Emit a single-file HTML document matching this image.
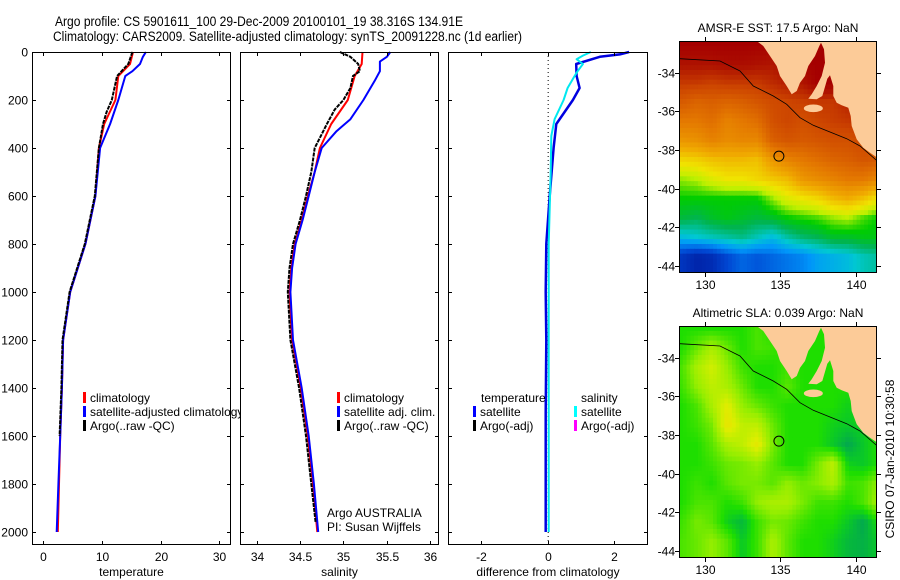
<!DOCTYPE html>
<html><head><meta charset="utf-8"><style>
html,body{margin:0;padding:0;background:#fff;}
svg{display:block;font-family:"Liberation Sans",sans-serif;}
text{fill:#000;}
</style></head><body>
<svg id="fig" width="900" height="580" viewBox="0 0 900 580" xmlns="http://www.w3.org/2000/svg">
<defs>
<clipPath id="clipSst"><rect x="679" y="41" width="198" height="232"/></clipPath>
<clipPath id="clipSla"><rect x="679" y="326" width="198" height="232"/></clipPath>
</defs>
<rect x="0" y="0" width="900" height="580" fill="#fff"/>
<text x="55" y="26" font-size="13.5" textLength="408" lengthAdjust="spacingAndGlyphs">Argo profile: CS 5901611_100 29-Dec-2009 20100101_19 38.316S 134.91E</text>
<text x="53" y="41" font-size="13.5" textLength="469" lengthAdjust="spacingAndGlyphs">Climatology: CARS2009. Satellite-adjusted climatology: synTS_20091228.nc (1d earlier)</text>
<g id="layer"></g>
</svg>
<script>
// ---------- profile data ----------
const tempClimDepth = [0,50,100,200,300,400,600,800,1000,1200,1400,1600,1800,2000];
const tempClim      = [15.3,14.8,12.8,12.3,10.4,9.5,8.9,7.2,4.6,3.4,3.2,2.9,2.7,2.5];
const tempSatDepth  = [0,20,50,80,100,200,300,400,600,800,1000,1200,1400,1600,1800,2000];
const tempSat       = [17.5,17.0,16.5,15.2,14.0,12.8,11.4,9.7,8.9,7.2,4.6,3.4,3.2,2.9,2.6,2.3];
const tempArgoDepth = [0,50,100,200,250,300,400,600,800,1000,1200,1400,1600];
const tempArgo      = [15.2,14.5,12.6,11.7,10.8,10.2,9.5,8.8,7.1,4.5,3.3,3.1,2.8];

const salClimDepth = [0,50,100,200,300,400,500,600,700,800,900,1000,1200,1400,1600,1800,2000];
const salClim      = [35.22,35.21,35.13,35.05,34.86,34.73,34.67,34.59,34.52,34.44,34.40,34.38,34.41,34.51,34.59,34.65,34.70];
const salSatDepth  = [0,20,40,80,120,200,280,330,400,500,600,700,800,900,1000,1200,1400,1600,1800,2000];
const salSat       = [35.54,35.50,35.42,35.42,35.36,35.23,35.08,34.92,34.75,34.67,34.60,34.53,34.45,34.41,34.39,34.42,34.52,34.60,34.66,34.71];
const salArgoDepth = [0,20,50,80,100,150,200,240,300,400,500,600,700,800,900,1000,1200,1400,1600,1800,1960];
const salArgo      = [34.96,35.08,35.17,35.19,35.11,35.08,35.00,34.90,34.81,34.67,34.63,34.57,34.50,34.42,34.38,34.36,34.39,34.49,34.57,34.63,34.68];

const diffTDepth = [0,10,20,50,100,150,200,300,400,600,800,1000,1200,1500,2000];
const diffT      = [2.45,2.17,1.57,0.86,0.87,0.96,0.76,0.26,0.18,0.06,-0.04,-0.06,-0.04,-0.06,-0.06];
const diffSDepth = [0,15,30,50,80,100,150,200,280,350,500,800,1000,1500,2000];
const diffS      = [1.30,1.06,0.87,1.06,0.90,0.81,0.60,0.48,0.21,0.11,0.09,0.03,0.03,0.03,0.03];

const depthTicks = [0,200,400,600,800,1000,1200,1400,1600,1800,2000];
const tempTicks = [0,10,20,30];
const salTicks = [34,34.5,35,35.5,36];
const salTickLabels = ["34","34.5","35","35.5","36"];
const diffTicks = [-2,0,2];

// ---------- map data ----------
const mapLons = [128.5,129.5,130.5,131.5,132.5,133.5,134.5,135.5,136.5,137.5,138.5,139.5,140.5,141.5];
const mapLats = [-32.5,-33.5,-34.5,-35.5,-36.5,-37.5,-38.5,-39.5,-40.5,-41.5,-42.5,-43.5];
const sstGrid = [
[20,20,20,20,20,20,20,20,20,20,20,20,20,20],
[19.6,19.6,19.6,19.7,19.7,19.6,19.5,19.8,20,20,20,20,20,20],
[19,19,18.9,19,19,19,19.2,19.4,19.5,20,20,20,20,20],
[18.4,18.2,18.3,18.2,18.3,18.5,18.7,18.8,18.9,19,19,19.3,19.5,19.5],
[17.8,17.8,18,17.6,17.8,18,18.6,18.8,18.6,18.8,18.9,19,19,19],
[17.2,17.3,17.6,17.4,17.5,17.5,18.3,18.5,18.4,18.5,18.6,18.6,18.7,18.5],
[16.2,16.3,16.5,16.6,16.6,16.5,17.2,17.6,17.8,18,18.2,18.3,18.5,18.4],
[15.4,15.5,15.8,16,16,16.2,16.4,16.6,17.2,17.4,17.6,17.8,17.8,17.5],
[15,15,15,15,15,15,15.4,15.8,16,16.2,16.6,16.8,16.5,16],
[14.7,14.6,14.8,14.9,14.8,14.7,14.8,15,15.1,15.2,15.4,15.5,15.2,15],
[14,14.1,14.2,14.3,14.4,14.2,14,14.3,14.5,14.6,14.8,14.8,14.9,14.9],
[13,12.8,12.9,13.2,13.4,13.3,13.4,13.5,13.6,13.8,13.9,14,14.2,14.3]];
const slaGrid = [
[0,0,0,0,0,0.03,0,0,0,0,0,0,0,0],
[0,0.05,0.1,0.05,0,0.03,0.02,0,0,0,0,0,0,0],
[0.03,0.1,0.14,0.08,0.02,0,0,0.02,0,0,0,0,0,0],
[0.02,0.08,0.12,0.1,0.05,0,0,0.04,0,0,0,0,0,0],
[0,0.03,0.1,0.16,0.08,0.05,0.02,0,0,0,0,-0.02,0,0],
[0,0.02,0.06,0.18,0.12,0.12,0.05,0,0,0,-0.02,-0.03,-0.02,0],
[0,0,0.04,0.1,0.12,0.17,0.06,0,0,0,-0.03,-0.07,-0.03,0],
[0,0,0.02,0.05,0.06,0.08,0.04,0,0,0.06,0.12,-0.02,-0.03,0],
[0,0.02,0,0.04,0.06,0.06,0.04,0.08,0.05,0.07,0.1,0.02,0.03,0.08],
[0,0.03,0.03,0,0.02,0.08,0.1,0.1,0.06,0.02,0.02,0,0.03,0.1],
[0.02,0.06,0.04,-0.02,-0.05,0.02,0.06,0.05,0.02,0,0,-0.03,-0.07,0],
[0.03,0.05,0.08,0.04,-0.03,0.02,0.1,0.04,0,0,-0.02,-0.05,-0.06,-0.03]];
const lonTicks = [130,135,140];
const latTicks = [-34,-36,-38,-40,-42,-44];
const argoLon = 134.91, argoLat = -38.316;

const NS = "http://www.w3.org/2000/svg";
const layer = document.getElementById('layer');
function mk(tag, attrs, parent){ const e=document.createElementNS(NS,tag); for(const k in attrs) e.setAttribute(k,attrs[k]); (parent||layer).appendChild(e); return e; }

const yTop=52, yScale=0.24;
function yD(d){ return yTop + d*yScale; }
const panelBottom = 545;

function panel(x0,x1,xmin,xmax,name){
  const sx = v => x0 + (v-xmin)/(xmax-xmin)*(x1-x0);
  const bg = mk('rect',{x:x0,y:yTop,width:x1-x0,height:panelBottom-yTop,fill:'#fff',stroke:'none'});
  
  
  return sx;
}
function frame(x0,x1,sx,ticks,labels,xlabel,name,withY){
  const g = mk('g',{});
  
  
  const box = mk('rect',{x:x0+0.5,y:yTop+0.5,width:x1-x0-1,height:panelBottom-yTop-1,fill:'none',stroke:'#000','stroke-width':1},g);
  
  
  ticks.forEach((t,i)=>{
    const x = Math.round(sx(t))+0.5;
    mk('line',{x1:x,x2:x,y1:yTop,y2:yTop+4,stroke:'#000'},g);
    mk('line',{x1:x,x2:x,y1:panelBottom,y2:panelBottom-4,stroke:'#000'},g);
    const tl = mk('text',{x:x,y:561,'font-size':12,'text-anchor':'middle'},g);
    tl.textContent = labels[i];
    
    
  });
  depthTicks.forEach(d=>{
    const y = Math.round(yD(d))+0.5;
    mk('line',{x1:x0,x2:x0+4,y1:y,y2:y,stroke:'#000'},g);
    mk('line',{x1:x1,x2:x1-4,y1:y,y2:y,stroke:'#000'},g);
    if(withY){
      const tl = mk('text',{x:28,y:y+4,'font-size':12,'text-anchor':'end'},g);
      tl.textContent = String(d);
      
      
    }
  });
  const xl = mk('text',{x:(x0+x1)/2,y:576,'font-size':12,'text-anchor':'middle'},g);
  xl.textContent = xlabel;
  
  
}
function series(depths, vals, sx, color, w, dash, name){
  const pts = depths.map((d,i)=>sx(vals[i]).toFixed(1)+','+yD(d).toFixed(1)).join(' ');
  const p = mk('polyline',{points:pts,fill:'none',stroke:color,'stroke-width':w,'stroke-linejoin':'round'});
  if(dash) p.setAttribute('stroke-dasharray',dash);
  
  
}
function legendEntry(x,y,color,label,name){
  if(color){
    const m = mk('rect',{x:x,y:y-10,width:3,height:11,fill:color});
    
    
  }
  const t = mk('text',{x:x+7,y:y,'font-size':12});
  t.textContent = label;
  
  
}

// Panel 1: temperature
const sxT = panel(32,231,-1.9,32,'temperature-panel');
series(tempClimDepth,tempClim,sxT,'#ff0000',2,null,'temperature-climatology-line');
series(tempSatDepth,tempSat,sxT,'#0000ff',2,null,'temperature-satellite-line');
series(tempArgoDepth,tempArgo,sxT,'#000000',2,'4,1','temperature-argo-line');
legendEntry(83,402,'#ff0000','climatology','legend-climatology');
legendEntry(83,416,'#0000ff','satellite-adjusted climatology','legend-satellite-adjusted');
legendEntry(83,430,'#000000','Argo(..raw -QC)','legend-argo-raw');
frame(32,231,sxT,tempTicks,tempTicks.map(String),'temperature','temperature-panel',true);

// Panel 2: salinity
const sxS = panel(240,439,33.81,36.1,'salinity-panel');
series(salClimDepth,salClim,sxS,'#ff0000',2,null,'salinity-climatology-line');
series(salSatDepth,salSat,sxS,'#0000ff',2,null,'salinity-satellite-line');
series(salArgoDepth,salArgo,sxS,'#000000',2,'4,1','salinity-argo-line');
legendEntry(337,402,'#ff0000','climatology','legend-sal-climatology');
legendEntry(337,416,'#0000ff','satellite adj. clim.','legend-sal-satellite');
legendEntry(337,430,'#000000','Argo(..raw -QC)','legend-sal-argo');
const a1 = mk('text',{x:327,y:517,'font-size':12}); a1.textContent='Argo AUSTRALIA';


const a2 = mk('text',{x:327,y:531,'font-size':12}); a2.textContent='PI: Susan Wijffels';


frame(240,439,sxS,salTicks,salTickLabels,'salinity','salinity-panel',false);

// Panel 3: difference
const sxD = panel(448,648,-3.0,3.02,'difference-panel');
const zl = mk('line',{x1:sxD(0)+0.5,x2:sxD(0)+0.5,y1:yTop,y2:panelBottom,stroke:'#000','stroke-dasharray':'1,3'});


series(diffTDepth,diffT,sxD,'#0000e0',2.5,null,'temperature-difference-line');
series(diffSDepth,diffS,sxD,'#00e8f0',2,null,'salinity-difference-line');
legendEntry(474,402,null,'temperature','legend-temperature-header');
legendEntry(574,402,null,'salinity','legend-salinity-header');
legendEntry(473,416,'#0000ff','satellite','legend-diff-temp-satellite');
legendEntry(473,430,'#000000','Argo(-adj)','legend-diff-temp-argo');
legendEntry(574,416,'#00ffff','satellite','legend-diff-sal-satellite');
legendEntry(574,430,'#ff00ff','Argo(-adj)','legend-diff-sal-argo');
frame(448,648,sxD,diffTicks,diffTicks.map(String),'difference from climatology','difference-panel',false);

// ---------- maps ----------
function lerpC(stops, v){
  if(v<=stops[0][0]) return stops[0][1];
  for(let i=1;i<stops.length;i++){
    if(v<=stops[i][0]){
      const t=(v-stops[i-1][0])/(stops[i][0]-stops[i-1][0]);
      const a=stops[i-1][1], b=stops[i][1];
      return a.map((c,k)=>Math.round(c+(b[k]-c)*t));
    }
  }
  return stops[stops.length-1][1];
}
const sstStops = [[12.6,[0,20,150]],[13.2,[0,70,210]],[13.7,[0,150,250]],[14.1,[0,200,210]],[14.6,[0,180,80]],[15.0,[0,205,0]],[15.5,[190,240,0]],[16.0,[240,228,0]],[16.8,[240,170,0]],[17.8,[228,120,0]],[18.8,[205,70,0]],[19.5,[175,20,0]],[20,[165,0,0]]];
const slaStops = [[-0.08,[0,160,90]],[-0.03,[10,200,40]],[0.0,[30,222,0]],[0.08,[150,238,0]],[0.15,[220,238,0]],[0.2,[240,220,0]]];

function sample(grid, lon, lat){
  let fi=(lon-mapLons[0]); let fj=(mapLats[0]-lat);
  fi=Math.max(0,Math.min(mapLons.length-1.001,fi)); fj=Math.max(0,Math.min(mapLats.length-1.001,fj));
  const i=Math.floor(fi), j=Math.floor(fj), u=fi-i, v=fj-j;
  return grid[j][i]*(1-u)*(1-v)+grid[j][i+1]*u*(1-v)+grid[j+1][i]*(1-u)*v+grid[j+1][i+1]*u*v;
}

function drawMap(top, grid, stops, title, name, clipId){
  const x0=679, x1=877, h=232;
  const lonMin=128.3, lonMax=141.4, latMax=-32.36, latMin=-44.36;
  const sx = lon => x0+(lon-lonMin)/(lonMax-lonMin)*(x1-x0);
  const sy = lat => top+(latMax-lat)/(latMax-latMin)*h;
  const g = mk('g',{});
  
  
  const cg = mk('g',{'clip-path':'url(#'+clipId+')'},g);
  const step=0.25;
  for(let lat=latMax; lat>latMin-0.01; lat-=step){
    for(let lon=lonMin; lon<lonMax; lon+=step){
      const c = lerpC(stops, sample(grid, lon+step/2, lat-step/2));
      mk('rect',{x:sx(lon).toFixed(2),y:sy(lat).toFixed(2),width:(sx(lon+step)-sx(lon)+0.6).toFixed(2),height:(sy(lat-step)-sy(lat)+0.6).toFixed(2),fill:'rgb('+c.join(',')+')'},cg);
    }
  }
  const ly = zy => top + (zy-125)/3;
  const lx = zx => 620 + zx/3;
  const land = [[410,125],[430,140],[450,170],[470,200],[480,230],[500,260],[515,285],
    [530,275],[540,250],[555,230],[565,200],[585,170],[598,140],[603,130],
    [612,150],[615,190],[605,230],[590,260],[575,285],[565,298],[590,300],[607,290],
    [615,262],[622,238],[630,228],
    [640,260],[640,290],[650,310],[665,318],[685,325],[692,350],[695,380],[710,420],[730,445],[750,460],[772,475],[772,125]];
  const lp = mk('polygon',{points:land.map(p=>lx(p[0]).toFixed(1)+','+ly(p[1]).toFixed(1)).join(' '),fill:'#fccb98'},cg);
  
  
  const island = mk('ellipse',{cx:lx(580),cy:ly(327),rx:9.5,ry:3.8,fill:'#fccb98'},cg);
  
  
  const shelf = [[178,178],[300,185],[360,215],[400,260],[460,290],[500,315],[540,355],[580,378],[630,398],[680,418],[720,440],[772,485]];
  const sp = mk('polyline',{points:shelf.map(p=>lx(p[0]).toFixed(1)+','+ly(p[1]).toFixed(1)).join(' '),fill:'none',stroke:'#000','stroke-width':0.8},cg);
  
  
  const circ = mk('circle',{cx:sx(argoLon),cy:sy(argoLat),r:5,fill:'none',stroke:'#000','stroke-width':1},g);
  
  
  mk('rect',{x:x0+0.5,y:top+0.5,width:x1-x0-1,height:h-1,fill:'none',stroke:'#000'},g);
  lonTicks.forEach(l=>{
    const x=Math.round(sx(l))+0.5;
    mk('line',{x1:x,x2:x,y1:top,y2:top-4,stroke:'#000'},g);
    mk('line',{x1:x,x2:x,y1:top+h,y2:top+h+4,stroke:'#000'},g);
    const t=mk('text',{x:x,y:top+h+16,'font-size':12,'text-anchor':'middle'},g);
    t.textContent=String(l);
    
    
  });
  latTicks.forEach(l=>{
    const y=Math.round(sy(l))+0.5;
    mk('line',{x1:x0,x2:x0-4,y1:y,y2:y,stroke:'#000'},g);
    mk('line',{x1:x1,x2:x1+4,y1:y,y2:y,stroke:'#000'},g);
    const t=mk('text',{x:x0-4,y:y+4,'font-size':12,'text-anchor':'end'},g);
    t.textContent=String(l);
    
    
  });
  const tt=mk('text',{x:(x0+x1)/2,y:top-9,'font-size':12,'text-anchor':'middle'},g);
  tt.textContent=title;
  
  
}
drawMap(41, sstGrid, sstStops, 'AMSR-E SST: 17.5 Argo: NaN', 'sst-map', 'clipSst');
drawMap(326, slaGrid, slaStops, 'Altimetric SLA: 0.039 Argo: NaN', 'sla-map', 'clipSla');

const cs = mk('text',{x:0,y:0,'font-size':12,'text-anchor':'middle',transform:'translate(894,459) rotate(-90)'});
cs.textContent='CSIRO 07-Jan-2010 10:30:58';


</script>
</body></html>
